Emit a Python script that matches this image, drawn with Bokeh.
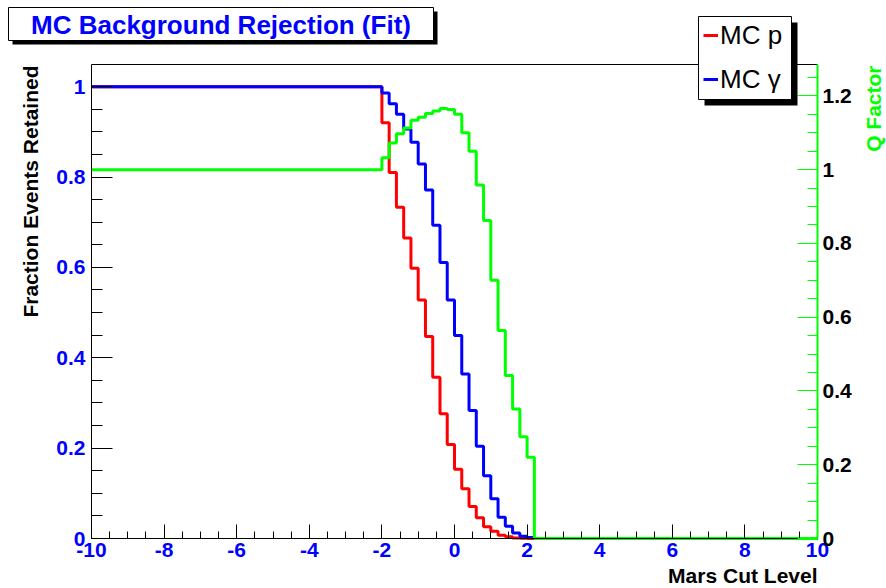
import numpy as np
from bokeh.plotting import figure
from bokeh.models import (Range1d, LinearAxis, FixedTicker, Label, Legend, LegendItem,
                          BoxAnnotation)
from bokeh.embed import file_html
from bokeh.resources import INLINE

# Histogram bin edges where the curves change (bin width 0.2 around the cut region)
cut_edges = [-10.0, -2.0, -1.8, -1.6, -1.4, -1.2, -1.0, -0.8, -0.6, -0.4, -0.2,
             0.0, 0.2, 0.4, 0.6, 0.8, 1.0, 1.2, 1.4, 1.6, 1.8, 2.0, 2.2, 10.0]

# Fraction of MC protons retained (value from each edge to the next)
frac_proton = [1.0, 0.920, 0.810, 0.733, 0.665, 0.598, 0.528, 0.447, 0.357, 0.276, 0.208,
               0.153, 0.110, 0.071, 0.046, 0.026, 0.016, 0.007, 0.004, 0.0012, 0.0003, 0.0001,
               0.0, 0.0]

# Fraction of MC gammas retained
frac_gamma = [1.0, 0.986, 0.962, 0.939, 0.906, 0.877, 0.829, 0.771, 0.693, 0.611, 0.528,
              0.449, 0.364, 0.283, 0.204, 0.139, 0.088, 0.047, 0.027, 0.012, 0.005, 0.002,
              0.0, 0.0]

# Quality factor
q_factor = [1.0, 1.032, 1.072, 1.097, 1.113, 1.134, 1.142, 1.152, 1.159, 1.166, 1.163,
            1.150, 1.100, 1.050, 0.958, 0.862, 0.700, 0.564, 0.442, 0.351, 0.276, 0.220,
            0.0, 0.0]

x_ticks = [-10, -8, -6, -4, -2, 0, 2, 4, 6, 8, 10]
x_tick_labels = ["-10", "-8", "-6", "-4", "-2", "0", "2", "4", "6", "8", "10"]
frac_ticks = [0, 0.2, 0.4, 0.6, 0.8, 1]
frac_tick_labels = ["0", "0.2", "0.4", "0.6", "0.8", "1"]
q_ticks = [0, 0.2, 0.4, 0.6, 0.8, 1, 1.2]
q_tick_labels = ["0", "0.2", "0.4", "0.6", "0.8", "1", "1.2"]

X_MIN, X_MAX = -10.0, 10.0
FRAC_MAX = 1.049
Q_MAX = 1.285

RED = "#ff0000"
BLUE = "#0000ff"
GREEN = "#00ff00"
FONT = "Liberation Sans"

# Canvas size and the pixel box of the drawing area inside it
W, H = 886, 588
BOX_L, BOX_R, BOX_T, BOX_B = 91, 817, 64, 538

# The plot frame spans the whole canvas; ranges are padded so that the data
# box sits at the pixel box above, leaving room for titles, boxes and legend.
x_scale = (BOX_R - BOX_L) / (X_MAX - X_MIN)
f_scale = (BOX_B - BOX_T) / FRAC_MAX
q_scale = (BOX_B - BOX_T) / Q_MAX
x_range = Range1d(X_MIN - BOX_L / x_scale, X_MAX + (W - BOX_R) / x_scale)
y_range = Range1d(-(H - BOX_B) / f_scale, FRAC_MAX + BOX_T / f_scale)
q_range = Range1d(-(H - BOX_B) / q_scale, Q_MAX + BOX_T / q_scale)


def px_x(px):
    return X_MIN + (px - BOX_L) / x_scale


def px_y(py):
    return (BOX_B - py) / f_scale


p = figure(width=W, height=H, output_backend="svg", toolbar_location=None,
           x_range=x_range, y_range=y_range,
           x_axis_location=None, y_axis_location=None,
           min_border=0, min_border_left=0, min_border_right=0,
           min_border_top=0, min_border_bottom=0,
           background_fill_color="white", border_fill_color="white")
p.extra_y_ranges = {"q": q_range}
p.xgrid.visible = False
p.ygrid.visible = False
p.outline_line_color = None

r_p = p.step(cut_edges, frac_proton, mode="after", line_color=RED, line_width=3)
r_g = p.step(cut_edges, frac_gamma, mode="after", line_color=BLUE, line_width=3)
p.step(cut_edges, q_factor, mode="after", line_color=GREEN, line_width=3, y_range_name="q")

# Axes pinned to the edges of the data box, ticks pointing inwards
xa = LinearAxis(fixed_location=0, bounds=(X_MIN, X_MAX),
                ticker=FixedTicker(ticks=x_ticks, minor_ticks=list(np.arange(-10, 10.01, 0.5))))
xa.major_label_overrides = dict(zip(x_ticks, x_tick_labels))
ya = LinearAxis(fixed_location=X_MIN, bounds=(0, FRAC_MAX),
                ticker=FixedTicker(ticks=frac_ticks, minor_ticks=list(np.arange(0, 1.0001, 0.05))))
ya.major_label_overrides = dict(zip(frac_ticks, frac_tick_labels))
qa = LinearAxis(y_range_name="q", fixed_location=X_MAX, bounds=(0, Q_MAX),
                ticker=FixedTicker(ticks=q_ticks, minor_ticks=list(np.arange(0, 1.2501, 0.05))))
qa.major_label_overrides = dict(zip(q_ticks, q_tick_labels))
# top edge of the box: a bare axis line
ta = LinearAxis(fixed_location=FRAC_MAX, bounds=(X_MIN, X_MAX),
                ticker=FixedTicker(ticks=[]), major_tick_line_color=None,
                minor_tick_line_color=None, major_label_text_font_size="0px")
p.add_layout(xa, "below")
p.add_layout(ya, "left")
p.add_layout(qa, "right")
p.add_layout(ta, "above")

for ax in (xa, ya, qa):
    ax.major_tick_out = 0
    ax.minor_tick_out = 0
    ax.major_label_text_font = FONT
    ax.major_label_text_font_style = "bold"
    ax.major_label_text_font_size = "21px"

xa.major_tick_in, xa.minor_tick_in = 14, 7
ya.major_tick_in, ya.minor_tick_in = 21, 11
qa.major_tick_in, qa.minor_tick_in = 20, 10
xa.major_label_text_color = BLUE
ya.major_label_text_color = BLUE
qa.major_label_text_color = "black"
for ax in (xa, ya, ta):
    ax.axis_line_color = "black"
for ax in (xa, ya):
    ax.major_tick_line_color = "black"
    ax.minor_tick_line_color = "black"
qa.axis_line_color = GREEN
qa.axis_line_width = 2
qa.major_tick_line_color = GREEN
qa.minor_tick_line_color = GREEN
xa.major_label_standoff = 4
ya.major_label_standoff = 6
qa.major_label_standoff = 5

# Axis titles, aligned to the far end of each axis
p.add_layout(Label(x=px_x(30), y=px_y(65), text="Fraction Events Retained", angle=np.pi / 2,
                   text_align="right", text_baseline="middle", text_font=FONT,
                   text_font_style="bold", text_font_size="21px", text_color="black"))
p.add_layout(Label(x=px_x(873), y=px_y(65), text="Q Factor", angle=np.pi / 2,
                   text_align="right", text_baseline="middle", text_font=FONT,
                   text_font_style="bold", text_font_size="21px", text_color=GREEN))
p.add_layout(Label(x=X_MAX, y=px_y(575), text="Mars Cut Level",
                   text_align="right", text_baseline="middle", text_font=FONT,
                   text_font_style="bold", text_font_size="21px", text_color="black"))


def panel_box(l, t, r, b, shadow):
    """A boxed panel (pixel edges) with a black drop shadow offset by `shadow` px."""
    p.add_layout(BoxAnnotation(left=px_x(l + shadow), right=px_x(r + shadow),
                               top=px_y(t + shadow), bottom=px_y(b + shadow),
                               fill_color="black", fill_alpha=1.0, line_color=None))
    p.add_layout(BoxAnnotation(left=px_x(l), right=px_x(r), top=px_y(t), bottom=px_y(b),
                               fill_color="white", fill_alpha=1.0,
                               line_color="black", line_width=1, line_alpha=1.0))


# Title box
panel_box(8, 7, 433, 40, 4)
p.add_layout(Label(x=px_x(220.5), y=px_y(24), text="MC Background Rejection (Fit)",
                   text_align="center", text_baseline="middle", text_font=FONT,
                   text_font_style="bold", text_font_size="26px", text_color=BLUE))

# Legend box
panel_box(698, 16, 791, 99, 6)
legend = Legend(items=[LegendItem(label="MC p", renderers=[r_p]),
                       LegendItem(label="MC γ", renderers=[r_g])],
                location=(703, H - 98), margin=0, padding=0, spacing=6,
                glyph_width=15, glyph_height=38, label_height=38, label_width=63,
                label_standoff=2, label_text_font=FONT, label_text_font_size="26px",
                label_text_color="black",
                background_fill_alpha=0.0, border_line_color=None)
p.add_layout(legend, "center")

open("out.html", "w").write(file_html(p, INLINE))
